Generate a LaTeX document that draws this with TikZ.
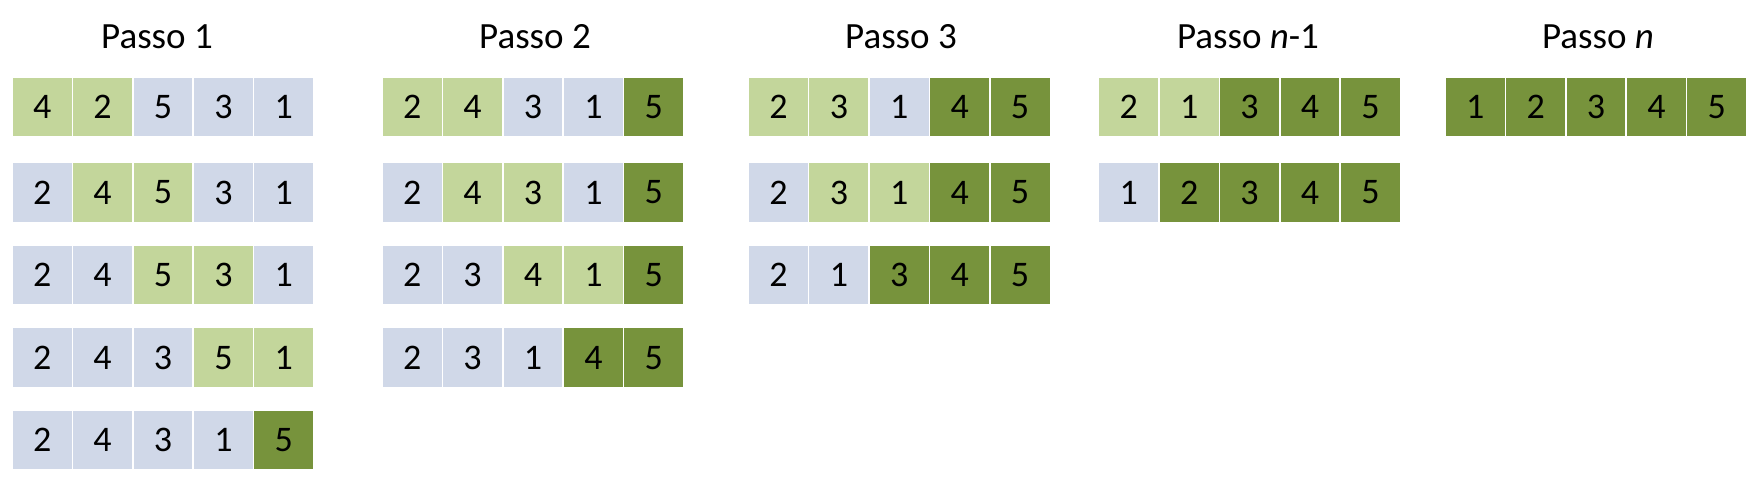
\documentclass[tikz,border=0pt]{standalone}
\usepackage{fontspec}
\setmainfont{Carlito}
\definecolor{cB}{HTML}{D0D8E8}
\definecolor{cL}{HTML}{C3D69B}
\definecolor{cD}{HTML}{77933C}
\def\ys{{107.1,192.5,275,357.7,440.2}}
\newcommand\grp[3]{%
  \foreach \row [count=\r] in {#3} {
    \pgfmathsetmacro\yy{\ys[\r-1]}
    \foreach \v/\c [count=\k] in \row {
      \node[cell,fill=c\c] (g#1r\r c\k) at ({#2+(\k-0.5)*60.4},\yy) {\v};
    }
  }}
\begin{document}
\begin{tikzpicture}[x=1pt,y=-1pt,
  cell/.style={draw=white,line width=1.5pt,minimum width=60.4pt,minimum height=60pt,
    inner sep=0pt,font=\fontsize{36}{36}\selectfont,anchor=center},
  title/.style={font=\fontsize{37}{37}\selectfont,anchor=base,inner sep=0pt}]
\useasboundingbox (0,0) rectangle (1760,483);
\node[title] (t1) at (157,48.3) {Passo 1};
\node[title] (t2) at (535,48.3) {Passo 2};
\node[title] (t3) at (901,48.3) {Passo 3};
\node[title] (t4) at (1248,48.3) {Passo \textit{n}-1};
\node[title] (t5) at (1598,48.3) {Passo \textit{n}};
\grp{1}{12}{{4/L,2/L,5/B,3/B,1/B},{2/B,4/L,5/L,3/B,1/B},{2/B,4/B,5/L,3/L,1/B},{2/B,4/B,3/B,5/L,1/L},{2/B,4/B,3/B,1/B,5/D}}
\grp{2}{382}{{2/L,4/L,3/B,1/B,5/D},{2/B,4/L,3/L,1/B,5/D},{2/B,3/B,4/L,1/L,5/D},{2/B,3/B,1/B,4/D,5/D}}
\grp{3}{748.3}{{2/L,3/L,1/B,4/D,5/D},{2/B,3/L,1/L,4/D,5/D},{2/B,1/B,3/D,4/D,5/D}}
\grp{4}{1098.6}{{2/L,1/L,3/D,4/D,5/D},{1/B,2/D,3/D,4/D,5/D}}
\grp{5}{1445}{{1/D,2/D,3/D,4/D,5/D}}
\end{tikzpicture}
\end{document}
